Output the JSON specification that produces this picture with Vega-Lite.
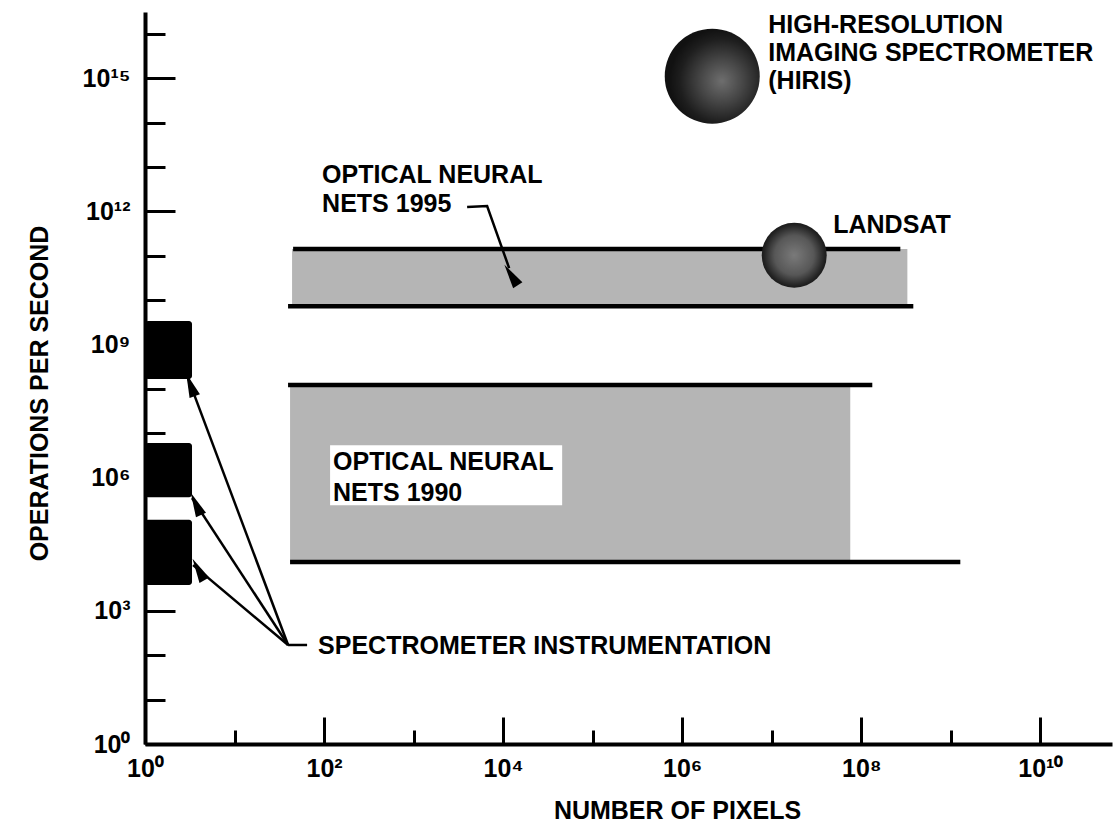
{
  "$schema": "https://vega.github.io/schema/vega-lite/v6.json",
  "width": 967,
  "height": 732,
  "autosize": {"type": "none"},
  "padding": {"left": 145, "top": 12, "right": 4, "bottom": 80},
  "background": "white",
  "config": {"view": {"stroke": null}, "font": "Liberation Sans"},
  "datasets": {
    "bands": [
      {"name": "ONN 1995", "x1": 43.9, "x2": 327000000, "y1": 7240000000, "y2": 141300000000},
      {"name": "ONN 1990", "x1": 41.7, "x2": 75300000, "y1": 12590, "y2": 123000000}
    ],
    "labelbox": [
      {"x1": 116.7, "x2": 45600, "y1": 240000, "y2": 5370000}
    ],
    "edges": [
      {"name": "1995 top", "x1": 45.1, "x2": 273000000, "y": 141300000000},
      {"name": "1995 bottom", "x1": 39.6, "x2": 381000000, "y": 7240000000},
      {"name": "1990 top", "x1": 39.6, "x2": 132700000, "y": 123000000},
      {"name": "1990 bottom", "x1": 41.7, "x2": 1276000000, "y": 12590}
    ],
    "blocks": [
      {"name": "spectrometer A", "x1": 1, "x2": 3.35, "y1": 166000000, "y2": 3390000000},
      {"name": "spectrometer B", "x1": 1, "x2": 3.35, "y1": 363000, "y2": 6030000},
      {"name": "spectrometer C", "x1": 1, "x2": 3.35, "y1": 3800, "y2": 112200}
    ],
    "paths": [
      {"path": "s0", "seq": 0, "x": 39.6, "y": 170},
      {"path": "s0", "seq": 1, "x": 64.6, "y": 170},
      {"path": "s1", "seq": 0, "x": 39.6, "y": 170},
      {"path": "s1", "seq": 1, "x": 3.02, "y": 175000000},
      {"path": "s2", "seq": 0, "x": 39.6, "y": 170},
      {"path": "s2", "seq": 1, "x": 3.35, "y": 347000},
      {"path": "s3", "seq": 0, "x": 39.6, "y": 170},
      {"path": "s3", "seq": 1, "x": 3.44, "y": 10700},
      {"path": "lead", "seq": 0, "x": 3960, "y": 1245000000000},
      {"path": "lead", "seq": 1, "x": 6622, "y": 1309000000000},
      {"path": "lead", "seq": 2, "x": 11670, "y": 52500000000}
    ],
    "heads": [
      {"target": "s1", "x": 3.22, "y": 124500000},
      {"target": "s2", "x": 3.70, "y": 256000},
      {"target": "s3", "x": 3.95, "y": 8510},
      {"target": "lead", "x": 12270, "y": 36600000000}
    ],
    "circles": [
      {"name": "HIRIS", "x": 2163000, "y": 1109000000000000},
      {"name": "LANDSAT", "x": 17820000, "y": 102300000000}
    ],
    "labels": [
      {"text": "HIGH-RESOLUTION", "x": 9140000, "y": 10230000000000000},
      {"text": "IMAGING SPECTROMETER", "x": 9140000, "y": 2400000000000000},
      {"text": "(HIRIS)", "x": 9140000, "y": 562000000000000},
      {"text": "LANDSAT", "x": 48600000, "y": 324000000000},
      {"text": "OPTICAL NEURAL", "x": 95.1, "y": 4320000000000},
      {"text": "NETS 1995", "x": 95.1, "y": 955000000000},
      {"text": "OPTICAL NEURAL", "x": 125.9, "y": 1483000},
      {"text": "NETS 1990", "x": 125.9, "y": 297000},
      {"text": "SPECTROMETER INSTRUMENTATION", "x": 85.7, "y": 106.4}
    ]
  },
  "layer": [
    {
      "data": {"name": "bands"},
      "mark": {"type": "rect", "fill": "#b5b5b5"},
      "encoding": {
        "x": {
          "field": "x1", "type": "quantitative",
          "scale": {"type": "log", "domain": [1, 63100000000], "nice": false},
          "axis": {
            "values": [1, 10, 100, 1000, 10000, 100000, 1000000, 10000000, 100000000, 1000000000, 10000000000],
            "labelExpr": "datum.value == 1 ? '10⁰' : datum.value == 100 ? '10²' : datum.value == 10000 ? '10⁴' : datum.value == 1000000 ? '10⁶' : datum.value == 100000000 ? '10⁸' : datum.value == 10000000000 ? '10¹⁰' : ''",
            "labelFont": "Liberation Sans", "labelFontSize": 25, "labelFontWeight": "bold", "labelColor": "black",
            "labelPadding": 39, "labelAngle": 0, "labelOverlap": false, "labelFlush": false, "labelBaseline": "top",
            "tickSize": {"condition": {"test": "round(log(datum.value)/LN10) % 2 == 0", "value": -27}, "value": -14},
            "tickWidth": 3, "tickColor": "black",
            "domainColor": "black", "domainWidth": 4,
            "grid": false,
            "title": "NUMBER OF PIXELS",
            "titleFont": "Liberation Sans", "titleFontSize": 25, "titleFontWeight": "bold", "titleColor": "black",
            "titleX": 532, "titleY": 74, "titleAlign": "center", "titleBaseline": "alphabetic", "titleAngle": 0
          }
        },
        "x2": {"field": "x2"},
        "y": {
          "field": "y1", "type": "quantitative",
          "scale": {"type": "log", "domain": [1, 30900000000000000], "nice": false},
          "axis": {
            "values": [1, 10, 100, 1000, 10000, 100000, 1000000, 10000000, 100000000, 1000000000, 10000000000, 100000000000, 1000000000000, 10000000000000, 100000000000000, 1000000000000000, 10000000000000000],
            "labelExpr": "datum.value == 1 ? '10⁰' : datum.value == 1000 ? '10³' : datum.value == 1000000 ? '10⁶' : datum.value == 1000000000 ? '10⁹' : datum.value == 1000000000000 ? '10¹²' : datum.value == 1000000000000000 ? '10¹⁵' : ''",
            "labelFont": "Liberation Sans", "labelFontSize": 25, "labelFontWeight": "bold", "labelColor": "black",
            "labelPadding": 45, "labelAlign": "right", "labelBaseline": "middle", "labelOverlap": false, "labelFlush": false,
            "tickSize": {"condition": {"test": "round(log(datum.value)/LN10) % 3 == 0", "value": -30}, "value": -20},
            "tickWidth": 3, "tickColor": "black",
            "domainColor": "black", "domainWidth": 4,
            "grid": false,
            "title": "OPERATIONS PER SECOND",
            "titleFont": "Liberation Sans", "titleFontSize": 25, "titleFontWeight": "bold", "titleColor": "black",
            "titleX": -98, "titleY": 381, "titleAlign": "center", "titleBaseline": "alphabetic", "titleAngle": 270
          }
        },
        "y2": {"field": "y2"}
      }
    },
    {
      "data": {"name": "labelbox"},
      "mark": {"type": "rect", "fill": "white"},
      "encoding": {
        "x": {"field": "x1", "type": "quantitative"},
        "x2": {"field": "x2"},
        "y": {"field": "y1", "type": "quantitative"},
        "y2": {"field": "y2"}
      }
    },
    {
      "data": {"name": "edges"},
      "mark": {"type": "rule", "color": "black", "strokeWidth": 4.5},
      "encoding": {
        "x": {"field": "x1", "type": "quantitative"},
        "x2": {"field": "x2"},
        "y": {"field": "y", "type": "quantitative"}
      }
    },
    {
      "data": {"name": "blocks"},
      "mark": {"type": "rect", "fill": "black", "cornerRadius": 3},
      "encoding": {
        "x": {"field": "x1", "type": "quantitative"},
        "x2": {"field": "x2"},
        "y": {"field": "y1", "type": "quantitative"},
        "y2": {"field": "y2"}
      }
    },
    {
      "data": {"name": "circles"},
      "transform": [{"filter": "datum.name == 'HIRIS'"}],
      "mark": {
        "type": "point", "shape": "circle", "filled": true, "opacity": 1, "size": 9025, "strokeWidth": 0,
        "fill": {"gradient": "radial", "x1": 0.6, "y1": 0.55, "r1": 0, "x2": 0.6, "y2": 0.55, "r2": 0.55,
          "stops": [{"offset": 0, "color": "#6e6e6e"}, {"offset": 0.4, "color": "#474747"}, {"offset": 0.8, "color": "#1e1e1e"}, {"offset": 1, "color": "#111111"}]}
      },
      "encoding": {
        "x": {"field": "x", "type": "quantitative"},
        "y": {"field": "y", "type": "quantitative"}
      }
    },
    {
      "data": {"name": "circles"},
      "transform": [{"filter": "datum.name == 'LANDSAT'"}],
      "mark": {
        "type": "point", "shape": "circle", "filled": true, "opacity": 1, "size": 4225, "strokeWidth": 0,
        "fill": {"gradient": "radial", "x1": 0.5, "y1": 0.5, "r1": 0, "x2": 0.5, "y2": 0.5, "r2": 0.55,
          "stops": [{"offset": 0, "color": "#7a7a7a"}, {"offset": 0.55, "color": "#575757"}, {"offset": 0.85, "color": "#222222"}, {"offset": 1, "color": "#111111"}]}
      },
      "encoding": {
        "x": {"field": "x", "type": "quantitative"},
        "y": {"field": "y", "type": "quantitative"}
      }
    },
    {
      "data": {"name": "paths"},
      "mark": {"type": "line", "color": "black", "strokeWidth": 2.5},
      "encoding": {
        "x": {"field": "x", "type": "quantitative"},
        "y": {"field": "y", "type": "quantitative"},
        "detail": {"field": "path", "type": "nominal"},
        "order": {"field": "seq", "type": "quantitative"}
      }
    },
    {
      "data": {"name": "heads"},
      "mark": {"type": "point", "shape": "M0,-1L0.45,1L-0.45,1Z", "filled": true, "opacity": 1, "size": 600, "fill": "black", "strokeWidth": 0},
      "encoding": {
        "x": {"field": "x", "type": "quantitative"},
        "y": {"field": "y", "type": "quantitative"},
        "angle": {"field": "target", "type": "nominal", "scale": {"domain": ["s1", "s2", "s3", "lead"], "range": [339.5, 327, 310, 160]}, "legend": null}
      }
    },
    {
      "data": {"name": "labels"},
      "mark": {"type": "text", "align": "left", "baseline": "alphabetic", "font": "Liberation Sans", "fontSize": 25, "fontWeight": "bold", "color": "black"},
      "encoding": {
        "x": {"field": "x", "type": "quantitative"},
        "y": {"field": "y", "type": "quantitative"},
        "text": {"field": "text", "type": "nominal"}
      }
    }
  ]
}
